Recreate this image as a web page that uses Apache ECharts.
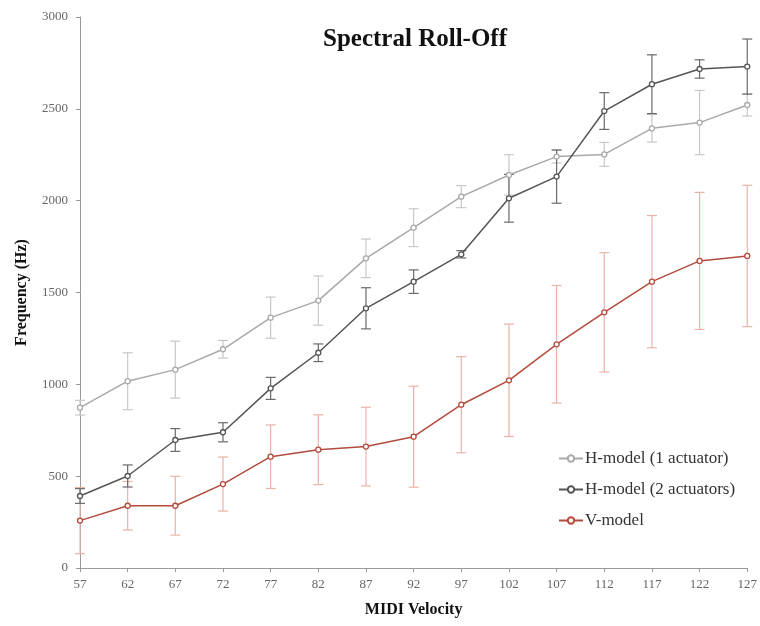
<!DOCTYPE html>
<html><head><meta charset="utf-8">
<script src="https://cdn.jsdelivr.net/npm/echarts@6/dist/echarts.min.js"></script>
<style>html,body{margin:0;padding:0;background:#fff}#c{width:760px;height:626px}</style>
</head><body><div id="c"></div>
<script>
const velocities = ['57','62','67','72','77','82','87','92','97','102','107','112','117','122','127'];
const h1Values = [873,1017,1080,1191,1363,1456,1686,1853,2022,2140,2240,2252,2394,2425,2521];
const h1Errors = [40,155,155,48,112,134,105,103,60,110,35,65,75,175,60];
const h2Values = [392,501,697,739,978,1172,1414,1559,1708,2013,2131,2488,2634,2717,2730];
const h2Errors = [40,60,62,52,60,48,112,64,20,130,145,100,160,50,150];
const vValues = [258,339,339,457,606,644,661,715,889,1022,1218,1392,1559,1672,1699];
const vErrors = [180,132,160,147,173,190,214,275,262,306,320,325,360,373,385];
const seriesNames = ['H-model (1 actuator)','H-model (2 actuators)','V-model'];
const yTicks = [0,500,1000,1500,2000,2500,3000];

const FONT = '"Liberation Serif","DejaVu Serif",serif';
const colors = ['#a9a9a9','#555555','#b34a3c'];
const errColors = ['#c8c8c8','#6a6a6a','#eab3aa'];

function errData(vals, errs){ return vals.map((v,i)=>[i, v-errs[i], v+errs[i]]); }
function errSeries(vals, errs, color){
  return {
    type:'custom', silent:true, z:1,
    data: errData(vals, errs),
    renderItem:function(params, api){
      const lo = api.coord([api.value(0), api.value(1)]);
      const hi = api.coord([api.value(0), api.value(2)]);
      const w = 5;
      const st = {stroke:color, lineWidth:1.2};
      return {type:'group', children:[
        {type:'line', shape:{x1:lo[0],y1:lo[1],x2:hi[0],y2:hi[1]}, style:st},
        {type:'line', shape:{x1:lo[0]-w,y1:lo[1],x2:lo[0]+w,y2:lo[1]}, style:st},
        {type:'line', shape:{x1:hi[0]-w,y1:hi[1],x2:hi[0]+w,y2:hi[1]}, style:st}
      ]};
    }
  };
}
function lineSeries(name, vals, color){
  return {
    name:name, type:'line', data:vals, z:3,
    symbol:'circle', symbolSize:5, showSymbol:true,
    lineStyle:{color:color, width:1.5},
    itemStyle:{color:'#fff', borderColor:color, borderWidth:1.3},
    emphasis:{disabled:true}
  };
}

const chart = echarts.init(document.getElementById('c'));
chart.setOption({
  animation:false,
  backgroundColor:'#fff',
  title:{text:'Spectral Roll-Off', left:410, top:22, textAlign:'center',
    textStyle:{fontFamily:FONT, fontSize:25, fontWeight:'bold', color:'#111'}},
  legend:{
    data:seriesNames,
    orient:'vertical', left:553, top:445, itemGap:14, itemWidth:24, itemHeight:8,
    textStyle:{fontFamily:FONT, fontSize:17, color:'#333', padding:[0,0,0,-3]}
  },
  grid:{left:80, right:8, top:17, bottom:58},
  xAxis:{
    type:'category', data:velocities, boundaryGap:false,
    name:'MIDI Velocity', nameLocation:'middle', nameGap:34,
    nameTextStyle:{fontFamily:FONT, fontSize:16, fontWeight:'bold', color:'#111'},
    axisLine:{lineStyle:{color:'#999'}},
    axisTick:{show:true, inside:false, length:4, lineStyle:{color:'#999'}},
    axisLabel:{fontFamily:FONT, fontSize:13, color:'#666', margin:10},
    splitLine:{show:false}
  },
  yAxis:{
    type:'value', min:yTicks[0], max:yTicks[yTicks.length-1], interval:500,
    name:'Frequency (Hz)', nameLocation:'middle', nameGap:50,
    nameTextStyle:{fontFamily:FONT, fontSize:16, fontWeight:'bold', color:'#111'},
    axisLine:{show:true, lineStyle:{color:'#999'}},
    axisTick:{show:true, length:4, lineStyle:{color:'#999'}},
    axisLabel:{fontFamily:FONT, fontSize:13, color:'#666', margin:12, formatter:function(v){return String(v);}},
    splitLine:{show:false}
  },
  series:[
    errSeries(vValues, vErrors, errColors[2]),
    errSeries(h1Values, h1Errors, errColors[0]),
    errSeries(h2Values, h2Errors, errColors[1]),
    lineSeries(seriesNames[0], h1Values, colors[0]),
    lineSeries(seriesNames[1], h2Values, colors[1]),
    lineSeries(seriesNames[2], vValues, colors[2])
  ]
});
</script></body></html>
